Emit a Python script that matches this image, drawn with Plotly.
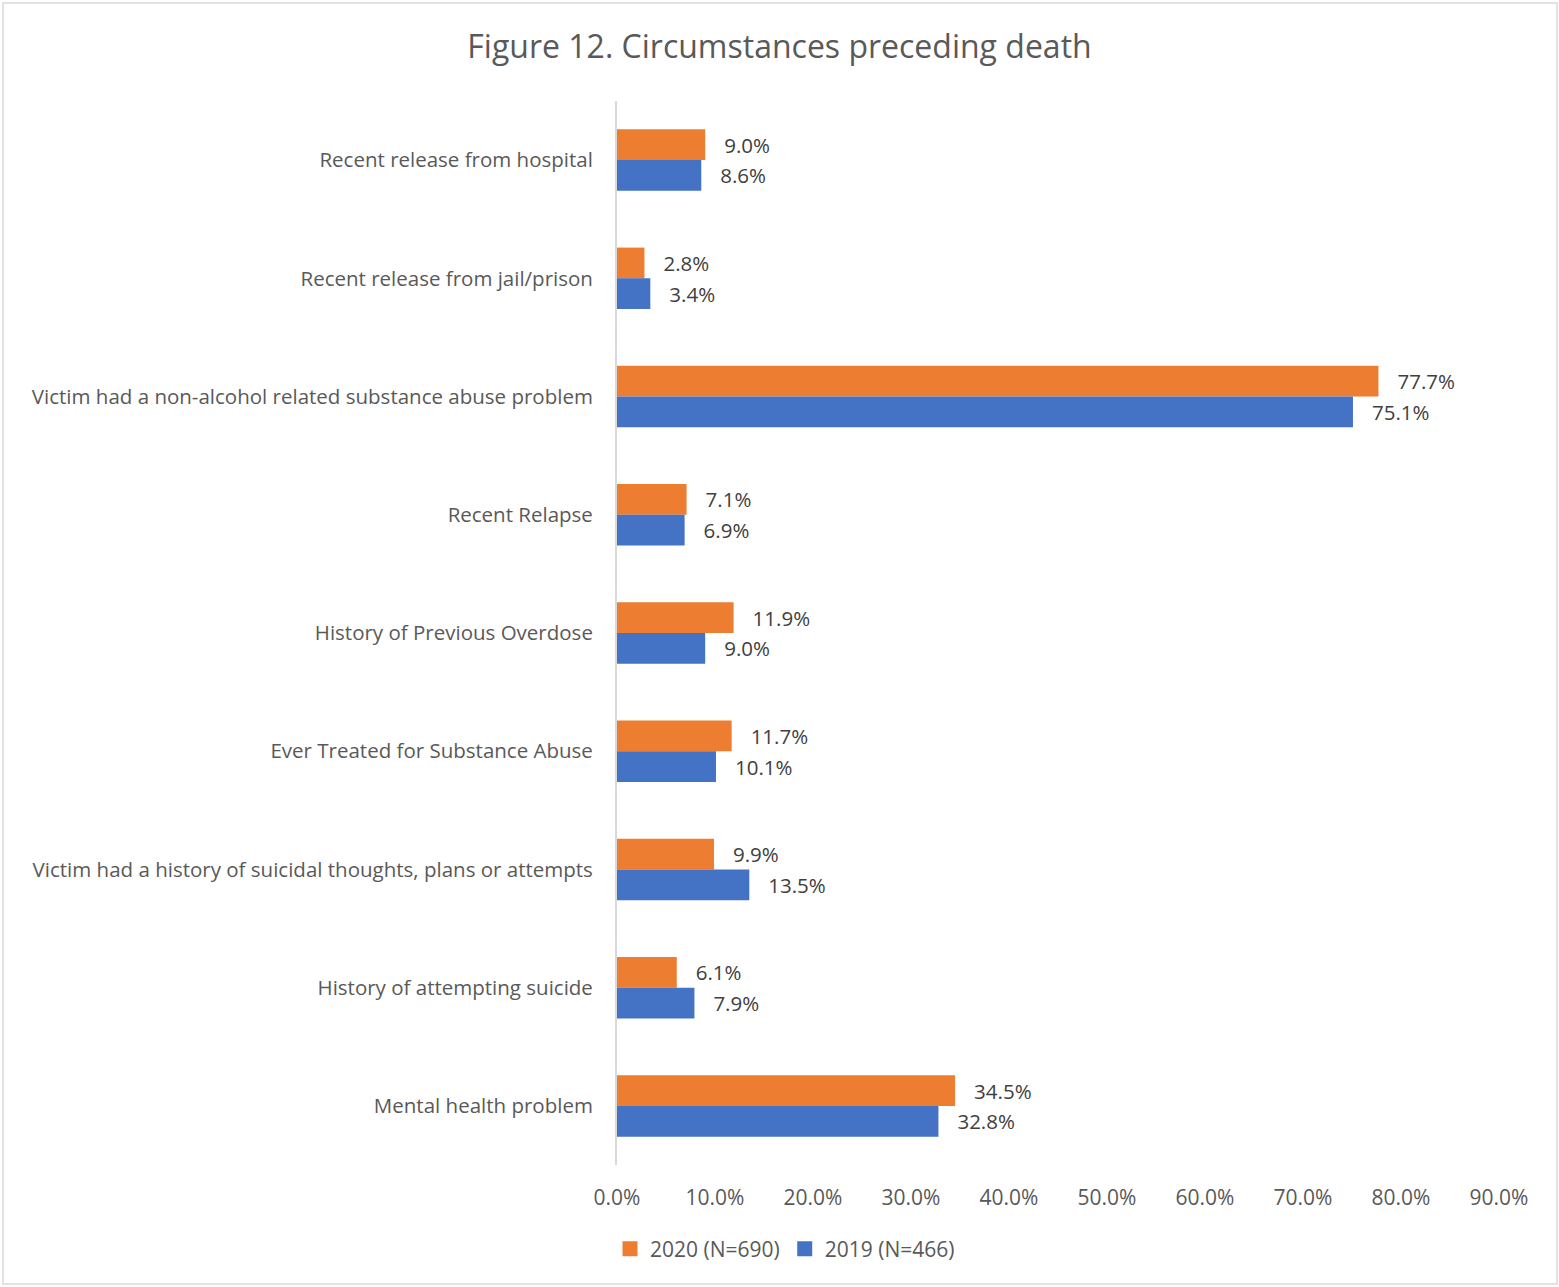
import plotly.graph_objects as go

categories = [
    "Recent release from hospital",
    "Recent release from jail/prison",
    "Victim had a non-alcohol related substance abuse problem",
    "Recent Relapse",
    "History of Previous Overdose",
    "Ever Treated for Substance Abuse",
    "Victim had a history of suicidal thoughts, plans or attempts",
    "History of attempting suicide",
    "Mental health problem",
]
values_2020 = [9.0, 2.8, 77.7, 7.1, 11.9, 11.7, 9.9, 6.1, 34.5]
values_2019 = [8.6, 3.4, 75.1, 6.9, 9.0, 10.1, 13.5, 7.9, 32.8]
series_names = ["2020 (N=690)", "2019 (N=466)"]
x_ticks = [0, 10, 20, 30, 40, 50, 60, 70, 80, 90]

FONT = "Open Sans"
GRAY = "#595959"
COLORS = ["#ED7D31", "#4472C4"]

fig = go.Figure()
for name, vals, color in [(series_names[0], values_2020, COLORS[0]),
                          (series_names[1], values_2019, COLORS[1])]:
    fig.add_trace(go.Bar(
        y=categories, x=vals, orientation="h", name=name,
        marker=dict(color=color, line=dict(width=0)),
        text=[f"{v:.1f}%" for v in vals],
        texttemplate="   %{text}",
        textposition="outside", cliponaxis=False,
        textfont=dict(family=FONT, size=20.5, color="#404040"),
        showlegend=False,
    ))
# legend entries with larger square markers
for name, color in zip(series_names, COLORS):
    fig.add_trace(go.Scatter(
        x=[None], y=[None], mode="markers", name=name,
        marker=dict(symbol="square", size=15, color=color),
        showlegend=True,
    ))

L, R, T, B = 617, 1499, 101, 1165
W, H = 1559, 1287
def px(x): return (x - L) / (R - L)
def py(y): return (B - y) / (B - T)

fig.update_layout(
    width=W, height=H,
    margin=dict(l=L, r=W - R, t=T, b=H - B, pad=0),
    paper_bgcolor="white", plot_bgcolor="white",
    barmode="group", bargap=0.48, bargroupgap=0,
    title=dict(text="Figure 12. Circumstances preceding death",
               x=0.5, xanchor="center", y=1 - 47 / H, yanchor="middle",
               font=dict(family=FONT, size=32, color=GRAY)),
    font=dict(family=FONT, color=GRAY),
    showlegend=True,
    legend=dict(orientation="h", x=px(785), xanchor="center",
                y=py(1249), yanchor="middle",
                font=dict(family=FONT, size=21, color=GRAY),
                traceorder="normal", itemsizing="trace"),
    xaxis=dict(range=[0, 90], tickvals=x_ticks,
               ticktext=[f"{t:.1f}%" for t in x_ticks],
               showgrid=False, zeroline=False, showline=False,
               tickfont=dict(family=FONT, size=21, color=GRAY),
               ticks="", ticklabelstandoff=18, fixedrange=True),
    yaxis=dict(autorange="reversed", showgrid=False, zeroline=False,
               showline=True, linecolor="#D9D9D9", linewidth=2,
               ticks="", ticklabelstandoff=18,
               tickfont=dict(family=FONT, size=20.5, color=GRAY)),
    shapes=[dict(type="rect", xref="paper", yref="paper",
                 x0=px(3), x1=px(1557), y0=py(1284), y1=py(3),
                 line=dict(color="#D9D9D9", width=1.5), layer="below")],
)

fig.write_html("out.html")
